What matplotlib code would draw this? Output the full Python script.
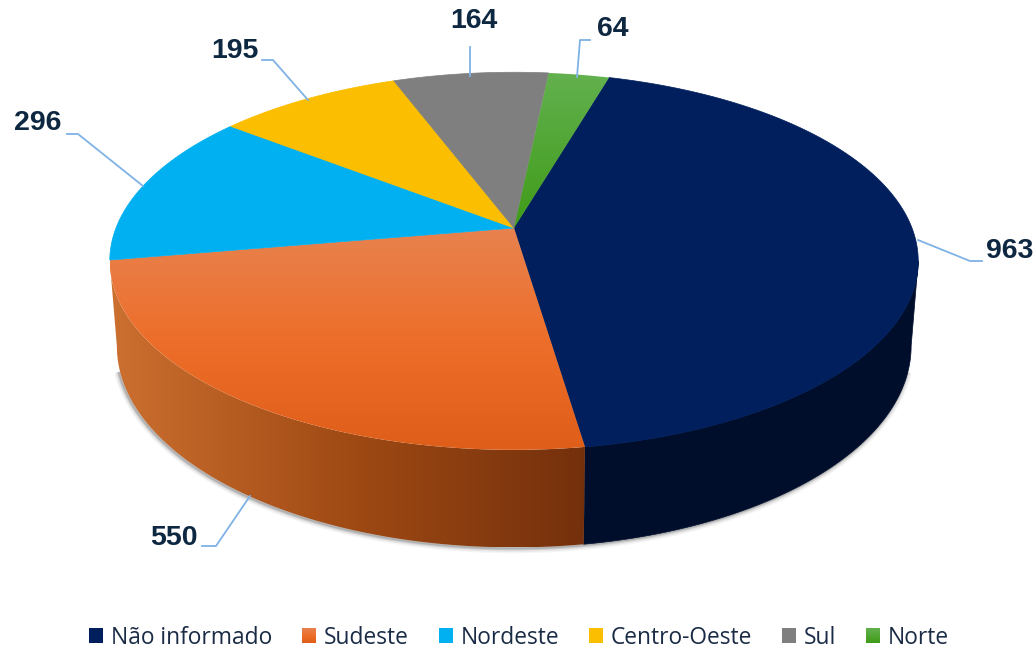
import numpy as np
import matplotlib
matplotlib.use("Agg")
import matplotlib.pyplot as plt
from matplotlib.colors import LinearSegmentedColormap
from matplotlib.patches import Patch, Polygon

# Data
regions = ["Não informado", "Sudeste", "Nordeste", "Centro-Oeste", "Sul", "Norte"]
counts = [963, 550, 296, 195, 164, 64]
colors = ["#001F5C", "#E96A27", "#00B0F0", "#FBBE00", "#7F7F7F", "#4EA72E"]

# pie projection, in pixels
start_deg = 16.2
cx = 514
k = 0.175
top_cy, top_a, top_b = 228, 398, 183
bot_cy, bot_a, bot_b = 311, 391, 195


def project(t, cy=top_cy, a=top_a, b=top_b):
    u, v = np.sin(t), np.cos(t)
    w = 1 + k * v
    return cx + a * u / w, cy - b * v / w


def gradient_fill(ax, xy, stops, zorder, horizontal=False):
    cmap = LinearSegmentedColormap.from_list("g", stops)
    x0, y0 = xy.min(axis=0)
    x1, y1 = xy.max(axis=0)
    ramp = np.linspace(0, 1, 256)
    ramp = ramp.reshape(1, -1) if horizontal else ramp.reshape(-1, 1)
    im = ax.imshow(ramp, cmap=cmap, aspect="auto", extent=(x0, x1, y1, y0),
                   zorder=zorder, interpolation="bilinear")
    poly = Polygon(xy, closed=True, transform=ax.transData, fc="none", ec="none")
    ax.add_patch(poly)
    im.set_clip_path(poly)


fig = plt.figure(figsize=(10.36, 6.48), dpi=100)
ax = fig.add_axes([0, 0, 1, 1])
ax.axis("off")

angles = np.radians(start_deg) + np.cumsum([0] + counts) / sum(counts) * 2 * np.pi
t_wide = np.arccos(-k)  # widest point of the rim

# soft shadow under the disc
tt = np.linspace(t_wide + 0.12, 2 * np.pi - t_wide - 0.12, 300)
sx, sy = project(tt, cy=bot_cy, a=bot_a, b=bot_b)
for lw, alpha in [(7, 0.05), (5, 0.08), (3, 0.14), (1.5, 0.2)]:
    ax.plot(sx - 1, sy + 1, color="#404040", lw=lw, alpha=alpha, zorder=1, solid_capstyle="butt")


def wall(t0, t1):
    ts = np.linspace(t0, t1, 200)
    xa, ya = project(ts)
    xb, yb = project(ts[::-1], cy=bot_cy, a=bot_a, b=bot_b)
    return np.column_stack([np.r_[xa, xb], np.r_[ya, yb]])


# side wall, the front half only
ax.add_patch(Polygon(wall(t_wide, angles[1]), closed=True, fc="#000E2C", ec="#000E2C", lw=0.5, zorder=2))
gradient_fill(ax, wall(angles[1], 2 * np.pi - t_wide), ["#CC7030", "#A04A14", "#74300C"], 2, horizontal=True)

# top face
top_stops = {
    "Sudeste": ["#E8824F", "#ED6E2A", "#DF5E19"],
    "Norte": ["#63B14F", "#3F9B18"],
}
for i, name in enumerate(regions):
    ts = np.linspace(angles[i], angles[i + 1], 150)
    xs, ys = project(ts)
    xy = np.column_stack([np.r_[cx, xs], np.r_[top_cy, ys]])
    if name in top_stops:
        gradient_fill(ax, xy, top_stops[name], 3)
    else:
        ax.add_patch(Polygon(xy, closed=True, fc=colors[i], ec=colors[i], lw=0.5, zorder=3))

# value labels and leader lines
label_xy = [(1010, 251), (174, 538), (38, 123), (235, 51), (474, 21), (613, 29)]
leaders = [
    [(918, 240), (970, 261), (982, 261)],
    [(250, 496), (216, 546), (202, 546)],
    [(143, 186), (78, 134), (67, 134)],
    [(308, 100), (273, 60), (262, 60)],
    [(470, 76), (470, 47)],
    [(577, 77), (580, 40), (590, 40)],
]
for n, (lx, ly), path in zip(counts, label_xy, leaders):
    ax.plot(*zip(*path), color="#7FB2E5", lw=1.3, zorder=4)
    ax.text(lx, ly, str(n), ha="center", va="center", fontsize=20.5, fontweight="bold",
            family="Liberation Sans", color="#0E2841", zorder=5)

ax.set_xlim(0, 1036)
ax.set_ylim(648, 0)

# legend
handles = [Patch(fc=c, ec="none") for c in colors]
leg = ax.legend(handles, regions, loc="center", bbox_to_anchor=(519 / 1036, 1 - 637.5 / 648), ncols=6,
                frameon=False, handlelength=0.63, handleheight=0.63, handletextpad=0.32, columnspacing=1.32,
                prop={"family": "Open Sans", "size": 16.4}, labelcolor="#1A2B45", borderpad=0)

# gradient on the two shaded legend keys
fig.canvas.draw()
for patch, name in zip(leg.get_patches(), regions):
    if name in top_stops:
        box = patch.get_window_extent().transformed(ax.transData.inverted())
        corners = [(box.x0, box.y0), (box.x1, box.y0), (box.x1, box.y1), (box.x0, box.y1)]
        gradient_fill(ax, np.array(corners), top_stops[name], 6)
ax.set_xlim(0, 1036)
ax.set_ylim(648, 0)

fig.savefig("out.png", dpi=100)
